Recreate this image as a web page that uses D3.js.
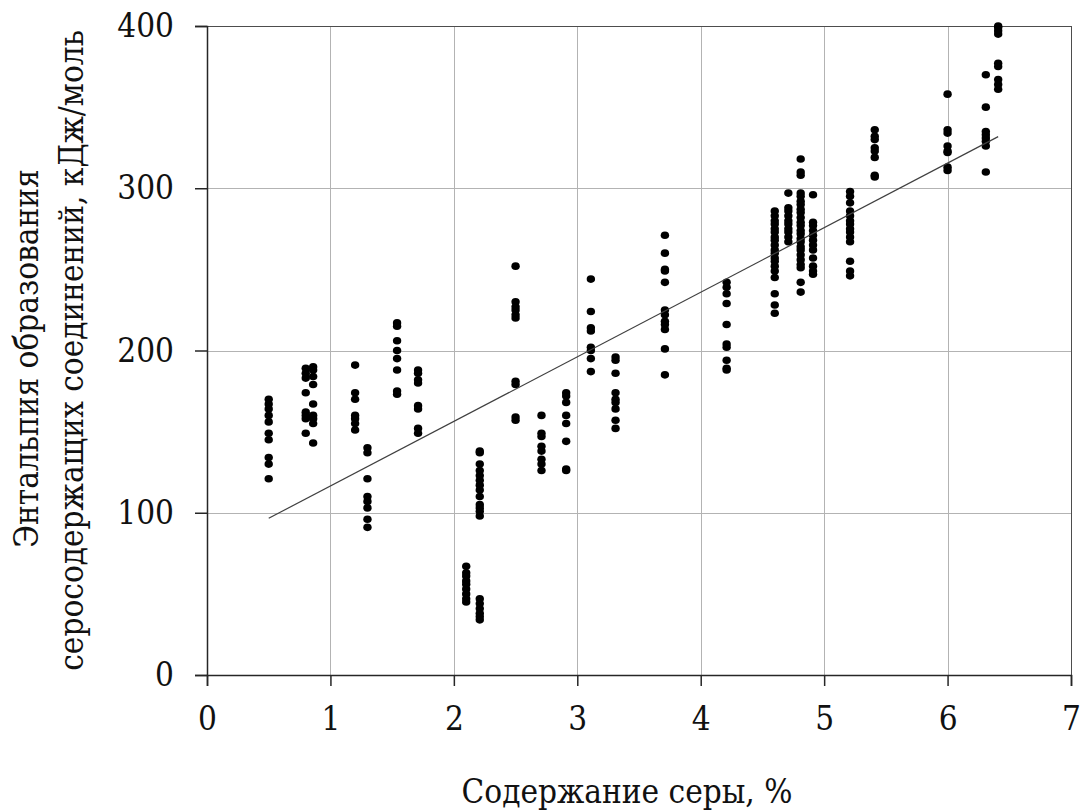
<!DOCTYPE html>
<meta charset="utf-8">
<head>
<title>Энтальпия образования</title>
<script src="https://d3js.org/d3.v7.min.js"></script>
<style>
  body { margin: 0; background: #fff; }
  .grid line { stroke: #b3b3b3; stroke-width: 1; shape-rendering: crispEdges; }
  .grid path { display: none; }
</style>
</head>
<body>
<script>

// sulfur content, % (one value per column of points)
var sulfur = [0.5, 0.8, 0.86, 1.2, 1.3, 1.54, 1.71, 2.1, 2.21, 2.5, 2.71, 2.91, 3.11,
              3.31, 3.71, 4.21, 4.6, 4.71, 4.81, 4.91, 5.21, 5.41, 6.0, 6.31, 6.41];

// enthalpy values, kJ/mol, one list per sulfur column
var enthalpy = [
  [170, 167, 164, 160, 156, 149, 145, 134, 130, 121],
  [189, 186, 183, 174, 162, 160, 158, 149],
  [190, 188, 184, 179, 167, 160, 158, 155, 143],
  [191, 174, 170, 160, 158, 155, 151],
  [140, 137, 121, 110, 107, 103, 96, 91],
  [217, 215, 206, 200, 195, 188, 175, 173],
  [188, 186, 182, 180, 166, 164, 152, 149],
  [67, 63, 61, 58, 56, 53, 50, 47, 45],
  [138, 137, 130, 126, 123, 120, 117, 114, 110, 105, 103, 101, 98, 47, 44, 41, 38, 36, 34],
  [252, 230, 227, 225, 222, 220, 181, 179, 159, 157],
  [160, 149, 147, 141, 138, 133, 130, 126],
  [174, 172, 168, 160, 155, 144, 127, 126],
  [244, 224, 214, 212, 202, 200, 195, 187],
  [196, 194, 186, 174, 170, 168, 164, 157, 152],
  [271, 260, 250, 249, 242, 225, 222, 218, 216, 213, 201, 185],
  [242, 239, 235, 229, 216, 204, 202, 194, 189, 188],
  [286, 283, 280, 278, 275, 273, 270, 268, 265, 262, 260, 257, 255, 252, 249, 245, 235, 228, 223],
  [297, 288, 286, 283, 280, 278, 275, 273, 270, 267],
  [318, 310, 308, 297, 295, 292, 290, 287, 285, 282, 279, 277, 274, 272, 269, 267, 264, 262, 259, 256, 253, 251, 242, 236],
  [296, 279, 277, 274, 271, 268, 265, 262, 257, 252, 249, 247],
  [298, 295, 291, 286, 283, 280, 278, 275, 273, 270, 267, 255, 249, 246],
  [336, 332, 330, 325, 323, 319, 308, 307],
  [358, 336, 334, 326, 323, 322, 313, 311],
  [370, 350, 335, 333, 331, 329, 326, 310],
  [400, 399, 397, 395, 377, 375, 367, 364, 361]
];

// linear trend line: y = slope * x + intercept, drawn over the data range
var trendSlope = 39.8;
var trendIntercept = 76.7;
var trendRange = [0.5, 6.41];

var xTicks = [0, 1, 2, 3, 4, 5, 6, 7];
var yTicks = [0, 100, 200, 300, 400];

var serif = "'DejaVu Serif Condensed', 'DejaVu Serif'";

var margin = {top: 26, right: 13, bottom: 137, left: 207},
    width = 1084 - margin.left - margin.right,
    height = 812 - margin.top - margin.bottom;

var x = d3.scaleLinear().domain([0, 7]).range([0, width]);
var y = d3.scaleLinear().domain([0, 400]).range([height, 0]);

var svg = d3.select("body").append("svg")
    .attr("width", 1084)
    .attr("height", 812)
  .append("g")
    .attr("transform", "translate(" + margin.left + "," + margin.top + ")");

// grid
svg.append("g")
    .attr("class", "grid")
    .attr("transform", "translate(0," + height + ")")
    .call(d3.axisBottom(x).tickValues(xTicks).tickSize(-height).tickFormat(""));
svg.append("g")
    .attr("class", "grid")
    .call(d3.axisLeft(y).tickValues(yTicks).tickSize(-width).tickFormat(""));

// frame
svg.append("rect")
    .attr("width", width)
    .attr("height", height)
    .attr("fill", "none")
    .attr("stroke", "#4d4d4d")
    .attr("shape-rendering", "crispEdges");

// flatten points
var points = [];
sulfur.forEach(function(s, i) {
  enthalpy[i].forEach(function(v) { points.push({s: s, v: v}); });
});

svg.selectAll(".dot")
    .data(points)
  .enter().append("ellipse")
    .attr("class", "dot")
    .attr("cx", function(d) { return x(d.s); })
    .attr("cy", function(d) { return y(d.v); })
    .attr("rx", 4.2)
    .attr("ry", 3.8)
    .attr("fill", "#000");

// trend line
svg.append("line")
    .attr("x1", x(trendRange[0]))
    .attr("y1", y(trendSlope * trendRange[0] + trendIntercept))
    .attr("x2", x(trendRange[1]))
    .attr("y2", y(trendSlope * trendRange[1] + trendIntercept))
    .attr("stroke", "#404040")
    .attr("stroke-width", 1.2);

// axes
var xAxis = svg.append("g")
    .attr("class", "axis")
    .attr("transform", "translate(0," + height + ")")
    .call(d3.axisBottom(x).tickValues(xTicks).tickSize(11).tickPadding(21).tickFormat(d3.format("d")));
var yAxis = svg.append("g")
    .attr("class", "axis")
    .call(d3.axisLeft(y).tickValues(yTicks).tickSize(12).tickPadding(21).tickFormat(d3.format("d")));

[xAxis, yAxis].forEach(function(a) {
  a.attr("font-family", serif).attr("font-size", 33);
  a.select(".domain").attr("stroke", "#262626").attr("stroke-width", 1.5);
  a.selectAll(".tick line").attr("stroke", "#262626").attr("stroke-width", 1.5);
  a.selectAll("text").attr("fill", "#111");
});

// axis titles
svg.append("text")
    .attr("x", width / 2 - 12)
    .attr("y", height + 128)
    .attr("text-anchor", "middle")
    .attr("font-family", serif)
    .attr("font-size", 33)
    .attr("fill", "#111")
    .text("Содержание серы, %");

svg.append("text")
    .attr("transform", "rotate(-90)")
    .attr("x", -(height / 2) - 8)
    .attr("y", 38 - margin.left)
    .attr("text-anchor", "middle")
    .attr("font-family", serif)
    .attr("font-size", 33)
    .attr("fill", "#111")
    .text("Энтальпия образования");

svg.append("text")
    .attr("transform", "rotate(-90)")
    .attr("x", -(height / 2))
    .attr("y", 83 - margin.left)
    .attr("text-anchor", "middle")
    .attr("font-family", serif)
    .attr("font-size", 33)
    .attr("fill", "#111")
    .text("серосодержащих соединений, кДж/моль");

</script>
</body>
